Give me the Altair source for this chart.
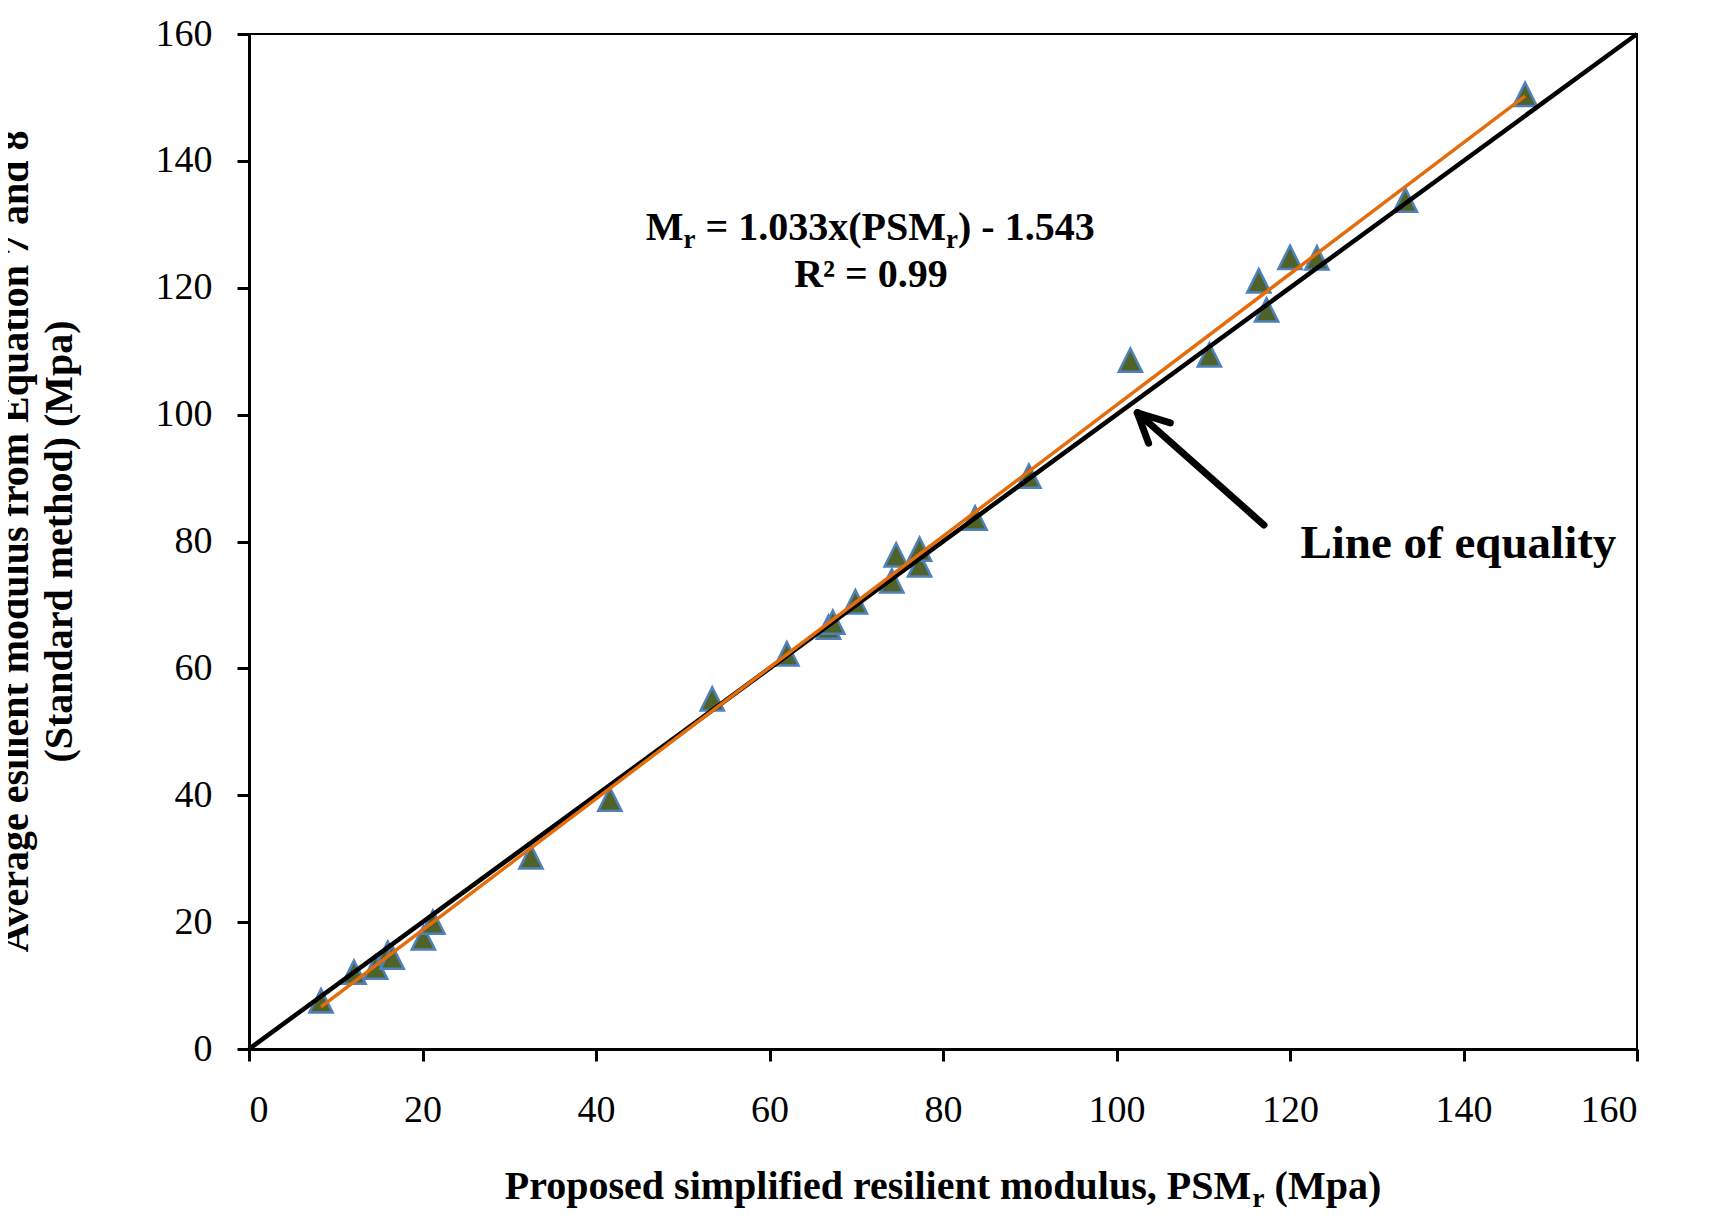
import altair as alt
import pandas as pd

# values
psm = [8.3, 12.1, 14.6, 16.0, 16.5, 20.1, 21.2, 32.5, 41.6, 53.4, 62.0, 66.8, 67.3, 69.9,
       74.1, 74.6, 77.3, 77.3, 83.7, 89.9, 101.6, 110.7, 116.4, 117.3, 120.0, 123.1, 133.3, 147.1]
mr = [7.6, 12.1, 12.9, 15.1, 14.5, 17.5, 20.0, 30.3, 39.4, 55.2, 62.3, 66.5, 67.3, 70.5,
      73.8, 77.9, 76.3, 78.8, 83.7, 90.3, 108.6, 109.4, 121.1, 116.5, 124.8, 124.7, 133.8, 150.5]

equality_x = [0, 160]
equality_y = [0, 160]

ticks = [0, 20, 40, 60, 80, 100, 120, 140, 160]

y_title = ["Average esilient modulus from Equation 7 and 8", "(Standard method) (Mpa)"]

SERIF = "Liberation Serif"
TRIANGLE = "M0,-1L1,1L-1,1Z"

pts = pd.DataFrame({"psm": psm, "mr": mr})
eq = pd.DataFrame({"psm": equality_x, "mr": equality_y})

x_enc = alt.X(
    "psm:Q",
    scale=alt.Scale(domain=[0, 160], nice=False, zero=False),
    axis=alt.Axis(values=ticks, title=None, labelPadding=30),
)
y_enc = alt.Y(
    "mr:Q",
    scale=alt.Scale(domain=[0, 160], nice=False, zero=False),
    axis=alt.Axis(
        values=ticks,
        title=y_title,
        labelPadding=25,
        titleX=-222,
        titleY=507,
        titleAngle=270,
        titleAlign="center",
        titleBaseline="alphabetic",
        titleFont=SERIF,
        titleFontSize=40,
        titleFontWeight="bold",
        titleLineHeight=44,
        titleColor="black",
    ),
)

points = (
    alt.Chart(pts)
    .mark_point(shape=TRIANGLE, filled=True, fill="#4F6228", stroke="#4F81BD",
                strokeWidth=2.5, size=540, opacity=1)
    .encode(x=x_enc, y=y_enc)
)

equality = (
    alt.Chart(eq)
    .mark_line(color="black", strokeWidth=4.5)
    .encode(x="psm:Q", y="mr:Q")
)

trend = (
    alt.Chart(pts)
    .transform_regression("psm", "mr")
    .mark_line(color="#E46C0A", strokeWidth=3.5)
    .encode(x="psm:Q", y="mr:Q")
)

# arrow pointing at the line of equality
arrow = pd.DataFrame({
    "x1": [117.0, 102.4, 102.4],
    "y1": [82.6, 100.3, 100.3],
    "x2": [102.4, 106.2, 103.7],
    "y2": [100.3, 98.7, 95.5],
})
arrow_layer = (
    alt.Chart(arrow)
    .mark_rule(color="black", strokeWidth=7, strokeCap="round")
    .encode(x="x1:Q", y="y1:Q", x2="x2:Q", y2="y2:Q")
)


def label(text, x, y, size, dx=0, dy=0, align="left"):
    return (
        alt.Chart(pd.DataFrame({"t": [text]}))
        .mark_text(font=SERIF, fontWeight="bold", fontSize=size, color="black",
                   align=align, baseline="alphabetic", dx=dx, dy=dy)
        .encode(x=x, y=y, text="t:N")
    )


# subscripts are drawn as separate smaller, lowered pieces
eq_x, eq_y = alt.datum(71.6), alt.datum(127.5)
equation = [
    label("M", eq_x, eq_y, 40, dx=-224.5),
    label("r", eq_x, eq_y, 27, dx=-186.7, dy=8),
    label("= 1.033x(PSM", eq_x, eq_y, 40, dx=-164.7),
    label("r", eq_x, eq_y, 27, dx=75.9, dy=8),
    label(") - 1.543", eq_x, eq_y, 40, dx=87.9),
    label("R² = 0.99", alt.datum(71.7), alt.datum(120.1), 40, align="center"),
]

loe = label("Line of equality", alt.datum(121.2), alt.datum(77.4), 47)

xt_x, xt_y = alt.value(694), alt.value(1165)
x_title = [
    label("Proposed simplified resilient modulus, PSM", xt_x, xt_y, 40, dx=-438.2),
    label("r", xt_x, xt_y, 27, dx=309.6, dy=8),
    label("(Mpa)", xt_x, xt_y, 40, dx=331.6),
]

chart = (
    alt.layer(points, equality, trend, arrow_layer, *equation, loe, *x_title)
    .properties(
        width=1388,
        height=1015,
        autosize=alt.AutoSizeParams(type="none"),
        padding={"left": 241, "top": 26, "right": 70, "bottom": 163},
        background="white",
    )
    .configure_view(stroke="black", strokeWidth=2)
    .configure_axis(
        grid=False,
        domainColor="black",
        domainWidth=3,
        tickColor="black",
        tickWidth=3,
        tickSize=12,
        labelFont=SERIF,
        labelFontSize=38,
        labelColor="black",
    )
)

chart.save("out.html", embed_options={"renderer": "svg", "actions": False})
